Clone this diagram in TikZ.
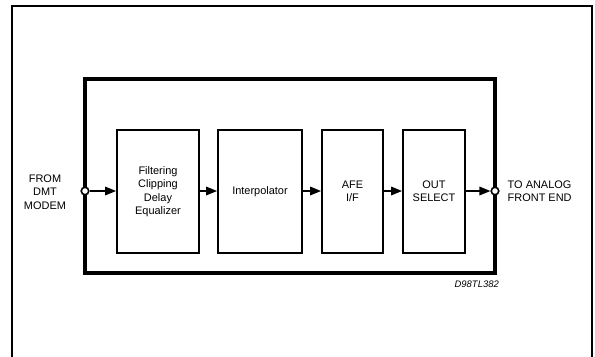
\documentclass[tikz,border=0pt]{standalone}
\usepackage{fontspec}
\setmainfont{Liberation Sans}
\usetikzlibrary{arrows.meta}
\begin{document}
\begin{tikzpicture}[x=1bp,y=-1bp,
  blk/.style={draw,line width=1.8bp,inner sep=0pt,align=center,font=\fontsize{11}{13.4}\selectfont},
  lbl/.style={align=center,font=\fontsize{11}{13.4}\selectfont,inner sep=0pt},
  conn/.style={line width=1.7bp,-{Triangle[length=11bp,width=8.5bp]}},
  port/.style={circle,draw,fill=white,line width=1.6bp,minimum size=7.5bp,inner sep=0pt}]
\useasboundingbox (0,0) rectangle (595,356);
\begin{scope}
\clip (0,0) rectangle (595,356);
\draw[line width=2.2bp] (12,6) rectangle (592,370);
\end{scope}
\draw[line width=3.4bp] (85,79) rectangle (495,273);
\node[blk,minimum width=82bp,minimum height=123bp] (f) at (158,191.5) {Filtering\\Clipping\\Delay\\Equalizer};
\node[blk,minimum width=84bp,minimum height=123bp] (i) at (260,191.5) {Interpolator};
\node[blk,minimum width=61bp,minimum height=123bp] (a) at (352.5,191.5) {AFE\\I/F};
\node[blk,minimum width=62bp,minimum height=123bp] (o) at (434,191.5) {OUT\\SELECT};
\node[lbl] (in) at (45,192) {FROM\\DMT\\MODEM};
\node[lbl,anchor=west,align=left] (out) at (507.5,191.5) {TO ANALOG\\FRONT END};
\node[lbl,anchor=east,font=\fontsize{9.5}{11}\selectfont\itshape] (code) at (499,284) {D98TL382};
\node[port] (pin) at (85,191) {};
\node[port] (pout) at (495,191) {};
\draw[conn] (pin) -- (f.west |- pin);
\draw[conn] (f.east |- pin) -- (i.west |- pin);
\draw[conn] (i.east |- pin) -- (a.west |- pin);
\draw[conn] (a.east |- pin) -- (o.west |- pin);
\draw[conn] (o.east |- pin) -- (pout);
\end{tikzpicture}
\end{document}
